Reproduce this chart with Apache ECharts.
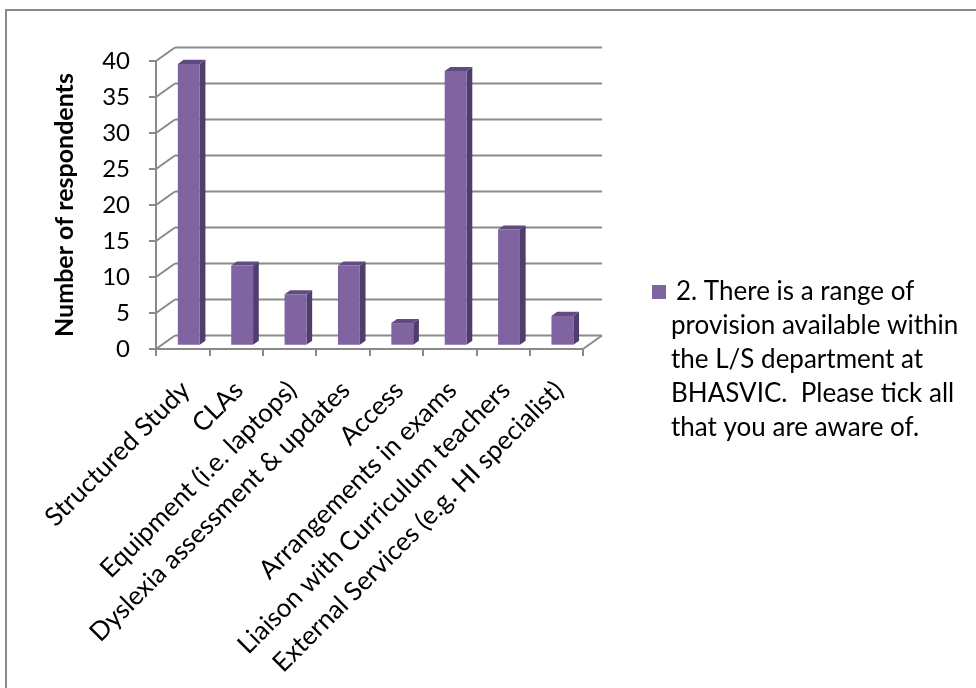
<!DOCTYPE html>
<html>
<head>
<meta charset="utf-8">
<script src="https://cdn.jsdelivr.net/npm/echarts@6/dist/echarts.min.js"></script>
<style>
  html, body { margin: 0; padding: 0; background: #ffffff; }
  #chart { width: 976px; height: 688px; }
</style>
</head>
<body>
<div id="chart"></div>
<script>
// Survey answers: how many respondents knew of each kind of provision
const categories = [
  'Structured Study',
  'CLAs',
  'Equipment (i.e. laptops)',
  'Dyslexia assessment & updates',
  'Access',
  'Arrangements in exams',
  'Liaison with Curriculum teachers',
  'External Services (e.g. HI specialist)'
];
const respondents = [39, 11, 7, 11, 3, 38, 16, 4];
const yTicks = [0, 5, 10, 15, 20, 25, 30, 35, 40];
const seriesName = '2. There is a range of provision available within the L/S department at BHASVIC.  Please tick all that you are aware of.';
const legendLines = [
  '2. There is a range of',
  'provision available within',
  'the L/S department at',
  'BHASVIC.  Please tick all',
  'that you are aware of.'
];

// Oblique projection used to fake the 3-D box
const WALL_DX = 19, WALL_DY = -13.5;     // front edge of floor -> back wall
const BAR_FRONT = 0.32, BAR_BACK = 0.62; // bar depth as fraction of floor depth
const BAR_WIDTH = 0.41;                  // fraction of category band

const FONT = 'Lato';
const GRID_COLOR = '#8a8a8a';

const chart = echarts.init(document.getElementById('chart'), null, { renderer: 'canvas' });

// Side-wall diagonals and back-wall gridlines, one group per tick value
function wallItem(params, api) {
  const v = api.value(0);
  const cs = params.coordSys;
  const y = api.coord([0, v])[1];
  const x0 = cs.x, x1 = cs.x + cs.width;
  const style = { stroke: GRID_COLOR, lineWidth: 2 };
  const children = [
    { type: 'line', shape: { x1: x0, y1: y, x2: x0 + WALL_DX, y2: y + WALL_DY }, style },
    { type: 'line', shape: { x1: x0 + WALL_DX, y1: y + WALL_DY, x2: x1 + WALL_DX, y2: y + WALL_DY }, style }
  ];
  if (v === 0) {
    children.push({ type: 'line', shape: { x1: x1, y1: y, x2: x1 + WALL_DX, y2: y + WALL_DY }, style });
  }
  return { type: 'group', children };
}

// A column with front, side and top faces
function barItem(params, api) {
  const idx = api.value(0);
  const v = api.value(1);
  const top = api.coord([idx, v]);
  const base = api.coord([idx, 0]);
  const band = api.size([1, 0])[0];
  const w = band * BAR_WIDTH;
  const ox = WALL_DX * BAR_FRONT, oy = WALL_DY * BAR_FRONT;
  const dx = WALL_DX * (BAR_BACK - BAR_FRONT), dy = WALL_DY * (BAR_BACK - BAR_FRONT);
  const l = top[0] - w / 2 + ox, r = l + w;
  const t = top[1] + oy, b = base[1] + oy;
  return {
    type: 'group',
    children: [
      { type: 'polygon', shape: { points: [[r, t], [r + dx, t + dy], [r + dx, b + dy], [r, b]] },
        style: { fill: '#4f3d6c' } },
      { type: 'polygon', shape: { points: [[l, t], [l + dx, t + dy], [r + dx, t + dy], [r, t]] },
        style: { fill: '#5f4a82' } },
      { type: 'rect', shape: { x: l, y: t, width: w, height: b - t },
        style: { fill: '#8064a2' } }
    ]
  };
}

const option = {
  animation: false,
  backgroundColor: '#ffffff',
  textStyle: { fontFamily: FONT },
  graphic: [{
    type: 'rect',
    shape: { x: 6, y: 10, width: 1200, height: 1200 },
    style: { fill: 'none', stroke: GRID_COLOR, lineWidth: 2 },
    silent: true, z: -10
  }],
  grid: { left: 156, top: 61, width: 427, height: 288, containLabel: false, outerBoundsMode: 'none' },
  legend: {
    data: [seriesName],
    left: 652, top: 139, padding: 0,
    icon: 'rect', itemWidth: 14, itemHeight: 14,
    selectedMode: false,
    formatter: () => '{first|' + legendLines[0] + '}\n' + legendLines.slice(1).join('\n'),
    textStyle: {
      fontFamily: FONT, fontSize: 26, lineHeight: 34, color: '#000',
      padding: [136, 0, 0, 0],
      rich: { first: { fontFamily: FONT, fontSize: 26, lineHeight: 34, color: '#000', padding: [0, 0, 0, 5] } }
    }
  },
  xAxis: {
    type: 'category',
    data: categories,
    boundaryGap: true,
    axisLine: { show: true, lineStyle: { color: GRID_COLOR, width: 2 } },
    axisTick: { show: true, alignWithLabel: false, length: 7, lineStyle: { color: GRID_COLOR, width: 2 } },
    axisLabel: {
      interval: 0, rotate: 45, margin: 34,
      align: 'right', verticalAlign: 'top', lineHeight: 8,
      fontFamily: FONT, fontSize: 26, color: '#000'
    },
    splitLine: { show: false }
  },
  yAxis: {
    type: 'value',
    min: 0, max: 40, interval: 5,
    name: 'Number of respondents',
    nameLocation: 'middle', nameRotate: 90, nameGap: 79,
    nameTextStyle: { fontFamily: FONT, fontSize: 25, fontWeight: 'bold', color: '#000' },
    axisLine: { show: true, lineStyle: { color: GRID_COLOR, width: 2 } },
    axisTick: { show: true, length: 7, lineStyle: { color: GRID_COLOR, width: 2 } },
    axisLabel: { margin: 26, fontFamily: FONT, fontSize: 24, color: '#000' },
    splitLine: { show: false }
  },
  series: [
    {
      type: 'custom',
      name: 'walls',
      renderItem: wallItem,
      data: yTicks.map(v => [v]),
      encode: { y: 0 },
      clip: false,
      silent: true,
      z: 1
    },
    {
      type: 'custom',
      name: seriesName,
      renderItem: barItem,
      data: respondents.map((v, i) => [i, v]),
      encode: { x: 0, y: 1 },
      clip: false,
      itemStyle: { color: '#8064a2' },
      z: 3
    }
  ]
};

chart.setOption(option);
</script>
</body>
</html>
